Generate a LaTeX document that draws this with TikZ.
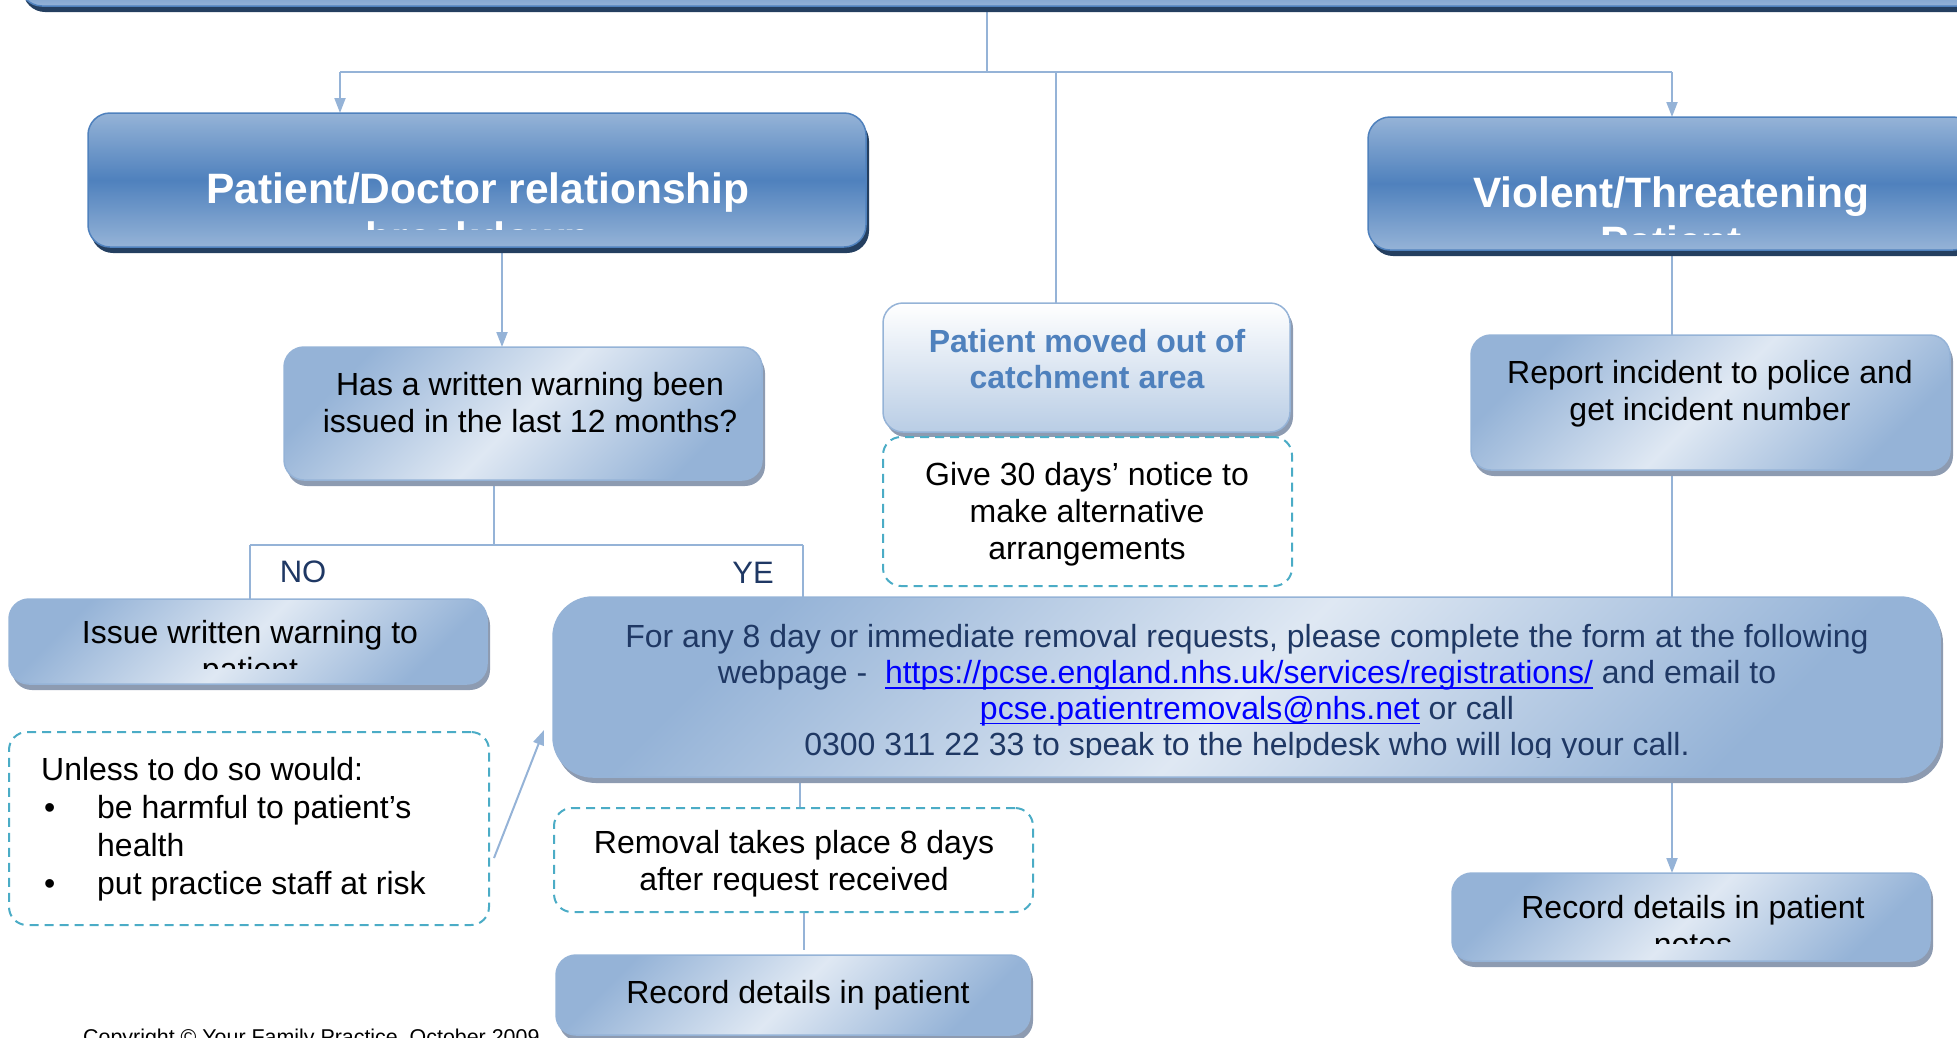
\documentclass[tikz,border=0pt]{standalone}
\usepackage{fontspec}
\setmainfont{Liberation Sans}
\usetikzlibrary{arrows.meta,shadows,backgrounds,calc}

\definecolor{hdrblue}{HTML}{4F81BD}
\definecolor{hdrlight}{HTML}{95B3D7}
\definecolor{hdrdark}{HTML}{243F60}
\definecolor{boxlight}{HTML}{DFE8F3}
\definecolor{boxdark}{HTML}{95B3D7}
\definecolor{boxshadow}{HTML}{8D9BB1}
\definecolor{catchlow}{HTML}{B9CDE5}
\definecolor{dashteal}{HTML}{4BACC6}
\definecolor{navytext}{HTML}{1F3864}
\definecolor{urlblue}{HTML}{0000FF}

\newsavebox{\lnkbox}
\newcommand{\lnk}[1]{\sbox{\lnkbox}{\color{urlblue}#1}{\color{urlblue}\rlap{\rule[-5pt]{\wd\lnkbox}{1.8pt}}}\usebox{\lnkbox}}

\tikzset{
  hdrbox/.style={rounded corners=22pt, draw=hdrblue, line width=1.5pt, inner sep=0pt, outer sep=0pt,
    top color=hdrlight, bottom color=hdrlight, middle color=hdrblue,
    drop shadow={shadow xshift=3pt, shadow yshift=-6pt, fill=hdrdark, opacity=1}},
  lightbox/.style={rounded corners=20pt, draw=boxdark, line width=1.5pt, inner sep=0pt, outer sep=0pt,
    top color=boxdark, bottom color=boxdark, middle color=boxlight, shading angle=45,
    drop shadow={shadow xshift=3pt, shadow yshift=-6pt, fill=boxshadow, opacity=1}},
  catchbox/.style={rounded corners=20pt, draw=boxdark, line width=1.5pt, inner sep=0pt, outer sep=0pt,
    top color=white, bottom color=catchlow,
    drop shadow={shadow xshift=3pt, shadow yshift=-5pt, fill=boxshadow, opacity=1}},
  dashbox/.style={rounded corners=18pt, draw=dashteal, line width=2pt, dash pattern=on 9pt off 6pt,
    fill=white, inner sep=0pt, outer sep=0pt},
  link/.style={draw=boxdark, line width=2pt},
  linkarrow/.style={link, -{Triangle[length=15pt,width=11pt]}},
  hdrtext/.style={font=\bfseries\fontsize{42.5}{49}\selectfont, text=white, align=center, anchor=base, inner sep=0pt},
  bodytext/.style={font=\fontsize{32}{37}\selectfont, align=center, anchor=base, inner sep=0pt},
  catchtext/.style={font=\bfseries\fontsize{32}{36}\selectfont, text=hdrblue, align=center, anchor=base, inner sep=0pt},
  reqtext/.style={font=\fontsize{32}{35.7}\selectfont, text=navytext, align=center, anchor=base, inner sep=0pt},
  branchtext/.style={font=\fontsize{31}{36}\selectfont, text=navytext, anchor=base, inner sep=0pt}
}

\begin{document}
\begin{tikzpicture}[x=1pt, y=-1pt]
\useasboundingbox (0,0) rectangle (1957,1037);
% header bar and the two headings (text nodes sit on their last baseline)
\node[hdrbox, minimum width=1980pt, minimum height=66pt] (topbar) at (1010,-27) {};
\node[hdrbox, minimum width=778pt, minimum height=134pt] (pdbox) at (477,180) {};
\node[hdrbox, minimum width=607pt, minimum height=133pt] (violent) at (1671.5,183.5) {};
\begin{scope}
\clip (pdbox.north west) rectangle (pdbox.east |- 0,229);
\node[hdrtext] (pdtext) at (478,252) {Patient/Doctor relationship\\breakdown};
\end{scope}
\begin{scope}
\clip (violent.north west) rectangle (violent.east |- 0,234);
\node[hdrtext] (violenttext) at (1671,256) {Violent/Threatening\\Patient};
\end{scope}

% second row
\node[lightbox, minimum width=478pt, minimum height=133pt] (question) at (523,413.5) {};
\node[bodytext] (questiontext) at (530,432) {Has a written warning been\\issued in the last 12 months?};
\node[catchbox, minimum width=407pt, minimum height=129pt] (catchment) at (1086.5,367.5) {};
\node[catchtext] (catchtxt) at (1087,388) {Patient moved out of\\catchment area};
\node[dashbox, minimum width=409pt, minimum height=149pt] (notice) at (1087.5,511.5) {};
\node[bodytext] (noticetext) at (1087,559) {Give 30 days' notice to\\make alternative\\arrangements};
\node[lightbox, minimum width=479pt, minimum height=135pt] (report) at (1710.5,402.5) {};
\node[bodytext] (reporttext) at (1710,420) {Report incident to police and\\get incident number};

% NO / YES branch
\node[branchtext] (nolabel) at (303,582) {NO};
\node[branchtext] (yeslabel) at (753,583) {YE};
\node[lightbox, minimum width=478pt, minimum height=85pt] (issue) at (248,641.5) {};
\begin{scope}
\clip (issue.north west) rectangle (issue.east |- 0,668);
\node[bodytext] (issuetext) at (250,680) {Issue written warning to\\patient};
\end{scope}
\node[dashbox, minimum width=480pt, minimum height=193pt] (unless) at (249,828.5) {};
\node[bodytext, align=left, anchor=base west, font=\fontsize{32}{38}\selectfont] (unlesstext) at (41,894)
  {Unless to do so would:\\
   \makebox[56pt][l]{\hspace{3pt}\textbullet}be harmful to patient's\\
   \hspace*{56pt}health\\
   \makebox[56pt][l]{\hspace{3pt}\textbullet}put practice staff at risk};

% removal request
\node[lightbox, rounded corners=40pt, minimum width=1387pt, minimum height=180pt] (request) at (1246.5,687) {};
\begin{scope}
\clip (request.north west) rectangle (request.east |- 0,757);
\node[reqtext] (requesttext) at (1247,755) {For any 8 day or immediate removal requests, please complete the form at the following\\
  webpage - \ \lnk{https://pcse.england.nhs.uk/services/registrations/} and email to\\
  \lnk{pcse.patientremovals@nhs.net} or call\\
  0300 311 22 33 to speak to the helpdesk who will log your call.};
\end{scope}
\node[dashbox, minimum width=479pt, minimum height=104pt] (removal) at (793.5,860) {};
\node[bodytext] (removaltext) at (794,890) {Removal takes place 8 days\\after request received};

% record boxes
\node[lightbox, minimum width=474pt, minimum height=80pt] (recordleft) at (793,995) {};
\begin{scope}
\clip (recordleft.north west) rectangle (recordleft.east |- 0,1018);
\node[bodytext] (recordlefttext) at (798,1040) {Record details in patient\\notes};
\end{scope}
\node[lightbox, minimum width=478pt, minimum height=88pt] (recordright) at (1691,917) {};
\begin{scope}
\clip (recordright.north west) rectangle (recordright.east |- 0,943);
\node[bodytext] (recordrighttext) at (1693,955) {Record details in patient\\notes};
\end{scope}

\node[font=\fontsize{21.4}{26}\selectfont, anchor=base west, inner sep=0pt] (copyright) at (83,1044)
  {Copyright © Your Family Practice, October 2009};

% connectors
\begin{scope}[on background layer]
\coordinate (fork) at (987,72);
\coordinate (forkl) at (340,72);
\coordinate (forkm) at (1056,72);
\coordinate (forkr) at (1672,72);
\coordinate (pdq) at (502,0);
\coordinate (qfork) at (494,545);
\coordinate (nofork) at (250,545);
\coordinate (yesfork) at (803,545);
\coordinate (reqrem) at (800,0);
\coordinate (remrec) at (804,0);
\draw[link] (topbar.center -| fork) -- (fork);
\draw[link] (forkl) -- (forkr);
\draw[linkarrow] (forkl) -- (pdbox.north -| forkl);
\draw[linkarrow] (forkr) -- (violent.north -| forkr);
\draw[link] (forkm) -- (catchment.north -| forkm);
\draw[linkarrow] (pdbox.south -| pdq) -- (question.north -| pdq);
\draw[link] (question.center -| qfork) -- (qfork);
\draw[link] (nofork) -- (yesfork);
\draw[link] (nofork) -- (issue.north -| nofork);
\draw[link] (yesfork) -- (request.north -| yesfork);
\draw[link] (violent.center -| forkr) -- (report.north -| forkr);
\draw[link] (report.center -| forkr) -- (request.north -| forkr);
\draw[linkarrow] (request.south -| forkr) -- (recordright.north -| forkr);
\draw[link] (request.center -| reqrem) -- (removal.north -| reqrem);
\draw[link] (removal.south -| remrec) -- ($(recordleft.north -| remrec)+(0,-5)$);
\end{scope}
\draw[linkarrow] ($(unless.east)+(5,29.5)$) -- ($(request.west)+(-9,43)$);
\end{tikzpicture}
\end{document}
